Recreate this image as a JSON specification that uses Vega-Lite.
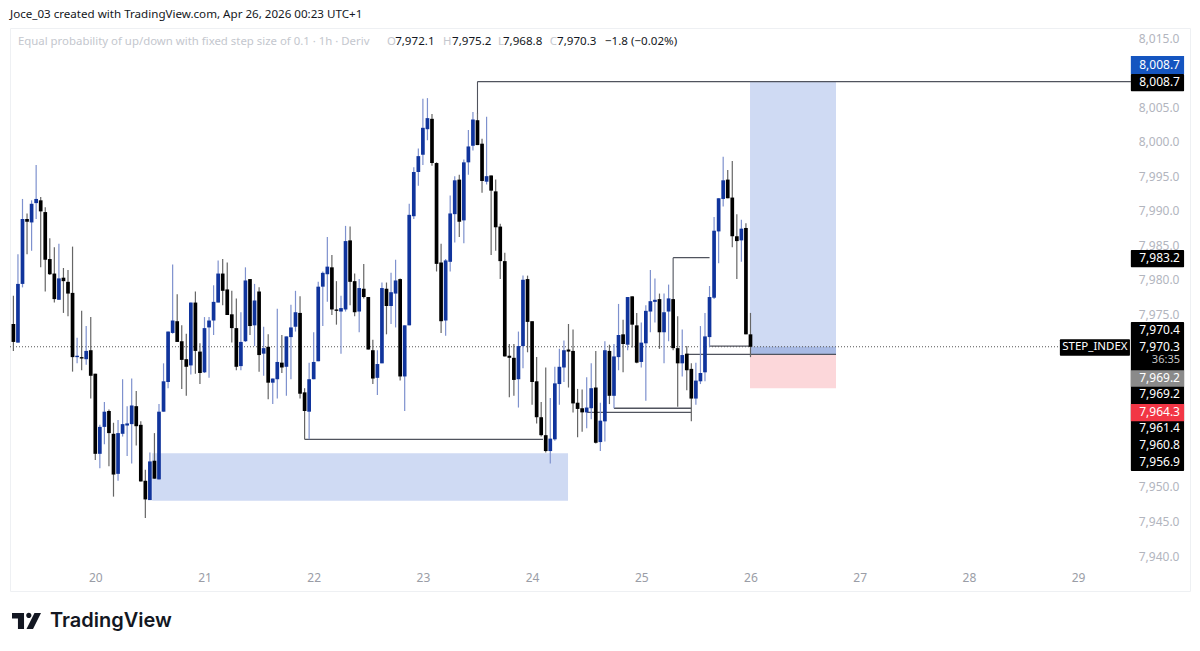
{"$schema":"https://vega.github.io/schema/vega-lite/v6.json","width":1180,"height":563,"autosize":{"type":"none"},"padding":{"left":10,"top":28,"right":10,"bottom":60},"background":"#ffffff","config":{"view":{"stroke":"#eef0f3","strokeWidth":1},"text":{"font":"Noto Sans"},"axis":{"labelFont":"Noto Sans"}},
"datasets":{"candles":[
{"i":0,"o":7973.6,"h":7977.7,"l":7969.7,"c":7971.0},{"i":1,"o":7970.9,"h":7983.7,"l":7970.9,"c":7979.4},{"i":2,"o":7979.4,"h":7991.7,"l":7978.9,"c":7988.8},{"i":3,"o":7988.8,"h":7989.6,"l":7983.7,"c":7988.4},{"i":4,"o":7988.3,"h":7991.5,"l":7984.2,"c":7991.0},{"i":5,"o":7991.1,"h":7996.6,"l":7988.8,"c":7991.7},{"i":6,"o":7991.5,"h":7992.0,"l":7981.8,"c":7989.9},{"i":7,"o":7989.8,"h":7990.5,"l":7978.3,"c":7982.9},{"i":8,"o":7983.0,"h":7986.0,"l":7980.7,"c":7980.8},{"i":9,"o":7980.9,"h":7984.7,"l":7976.7,"c":7977.2},
{"i":10,"o":7977.1,"h":7985.2,"l":7977.1,"c":7980.2},{"i":11,"o":7980.3,"h":7981.7,"l":7975.2,"c":7979.8},{"i":12,"o":7979.7,"h":7981.4,"l":7974.7,"c":7978.0},{"i":13,"o":7978.1,"h":7984.8,"l":7966.7,"c":7968.8},{"i":14,"o":7968.8,"h":7971.6,"l":7967.9,"c":7969.0},{"i":15,"o":7968.8,"h":7975.5,"l":7966.9,"c":7968.6},{"i":16,"o":7968.5,"h":7973.3,"l":7967.7,"c":7969.7},{"i":17,"o":7969.8,"h":7974.6,"l":7962.8,"c":7966.1},{"i":18,"o":7966.4,"h":7966.4,"l":7953.9,"c":7954.8},{"i":19,"o":7954.8,"h":7959.0,"l":7952.7,"c":7958.7},
{"i":20,"o":7958.7,"h":7962.3,"l":7956.2,"c":7960.9},{"i":21,"o":7961.0,"h":7961.2,"l":7953.0,"c":7957.8},{"i":22,"o":7957.7,"h":7959.3,"l":7948.6,"c":7951.8},{"i":23,"o":7951.9,"h":7959.7,"l":7950.9,"c":7957.8},{"i":24,"o":7957.7,"h":7965.6,"l":7957.3,"c":7959.1},{"i":25,"o":7958.9,"h":7961.7,"l":7954.5,"c":7959.2},{"i":26,"o":7959.1,"h":7965.7,"l":7953.4,"c":7961.8},{"i":27,"o":7961.7,"h":7963.9,"l":7956.0,"c":7958.8},{"i":28,"o":7959.0,"h":7959.5,"l":7950.8,"c":7950.8},{"i":29,"o":7950.9,"h":7952.5,"l":7945.5,"c":7948.2},
{"i":30,"o":7948.1,"h":7955.0,"l":7948.1,"c":7953.7},{"i":31,"o":7953.8,"h":7957.8,"l":7951.2,"c":7951.2},{"i":32,"o":7951.1,"h":7962.0,"l":7951.1,"c":7960.9},{"i":33,"o":7960.9,"h":7967.9,"l":7960.9,"c":7965.3},{"i":34,"o":7965.2,"h":7972.5,"l":7964.3,"c":7972.5},{"i":35,"o":7972.3,"h":7982.2,"l":7972.2,"c":7974.1},{"i":36,"o":7974.0,"h":7977.9,"l":7971.0,"c":7971.0},{"i":37,"o":7971.1,"h":7973.4,"l":7964.2,"c":7968.4},{"i":38,"o":7968.5,"h":7972.2,"l":7963.2,"c":7967.4},{"i":39,"o":7967.6,"h":7976.7,"l":7966.3,"c":7976.7},
{"i":40,"o":7976.7,"h":7978.3,"l":7966.4,"c":7969.7},{"i":41,"o":7969.6,"h":7970.8,"l":7964.9,"c":7966.5},{"i":42,"o":7966.6,"h":7974.6,"l":7966.5,"c":7973.0},{"i":43,"o":7973.1,"h":7974.6,"l":7965.8,"c":7974.1},{"i":44,"o":7974.1,"h":7979.2,"l":7972.0,"c":7976.8},{"i":45,"o":7976.7,"h":7982.8,"l":7976.7,"c":7980.9},{"i":46,"o":7980.9,"h":7983.0,"l":7976.3,"c":7978.4},{"i":47,"o":7978.6,"h":7982.5,"l":7974.9,"c":7974.9},{"i":48,"o":7975.0,"h":7978.4,"l":7970.9,"c":7973.0},{"i":49,"o":7973.0,"h":7977.3,"l":7966.9,"c":7967.4},
{"i":50,"o":7967.5,"h":7975.3,"l":7966.9,"c":7971.0},{"i":51,"o":7971.1,"h":7981.8,"l":7971.0,"c":7979.9},{"i":52,"o":7980.1,"h":7980.1,"l":7972.0,"c":7973.3},{"i":53,"o":7973.4,"h":7979.4,"l":7970.4,"c":7977.0},{"i":54,"o":7978.3,"h":7978.9,"l":7966.7,"c":7969.1},{"i":55,"o":7969.3,"h":7973.2,"l":7966.1,"c":7970.1},{"i":56,"o":7970.3,"h":7972.1,"l":7962.7,"c":7965.1},{"i":57,"o":7965.1,"h":7965.7,"l":7962.0,"c":7965.7},{"i":58,"o":7965.6,"h":7975.8,"l":7962.8,"c":7968.1},{"i":59,"o":7968.0,"h":7972.0,"l":7966.5,"c":7967.3},
{"i":60,"o":7967.4,"h":7971.8,"l":7963.2,"c":7971.8},{"i":61,"o":7971.7,"h":7976.4,"l":7965.6,"c":7973.1},{"i":62,"o":7973.2,"h":7978.4,"l":7972.5,"c":7975.3},{"i":63,"o":7975.2,"h":7977.6,"l":7962.8,"c":7963.5},{"i":64,"o":7963.7,"h":7964.3,"l":7956.9,"c":7961.0},{"i":65,"o":7960.9,"h":7968.0,"l":7956.9,"c":7965.6},{"i":66,"o":7965.6,"h":7972.4,"l":7965.6,"c":7968.1},{"i":67,"o":7968.2,"h":7979.7,"l":7968.2,"c":7979.0},{"i":68,"o":7979.0,"h":7981.2,"l":7973.3,"c":7981.0},{"i":69,"o":7980.8,"h":7986.2,"l":7976.8,"c":7981.9},
{"i":70,"o":7981.8,"h":7983.6,"l":7974.9,"c":7975.7},{"i":71,"o":7975.7,"h":7979.8,"l":7973.5,"c":7975.5},{"i":72,"o":7975.4,"h":7977.7,"l":7969.3,"c":7975.9},{"i":73,"o":7975.7,"h":7987.8,"l":7975.4,"c":7985.6},{"i":74,"o":7985.7,"h":7987.7,"l":7976.3,"c":7979.7},{"i":75,"o":7979.8,"h":7980.9,"l":7974.7,"c":7975.3},{"i":76,"o":7975.4,"h":7980.1,"l":7972.4,"c":7978.8},{"i":77,"o":7978.7,"h":7982.3,"l":7977.3,"c":7977.5},{"i":78,"o":7977.5,"h":7977.5,"l":7969.9,"c":7969.9},{"i":79,"o":7969.8,"h":7971.3,"l":7964.9,"c":7965.7},
{"i":80,"o":7965.8,"h":7969.8,"l":7963.3,"c":7967.8},{"i":81,"o":7967.9,"h":7979.6,"l":7967.9,"c":7978.8},{"i":82,"o":7978.7,"h":7979.6,"l":7972.1,"c":7976.2},{"i":83,"o":7976.2,"h":7981.0,"l":7973.6,"c":7978.2},{"i":84,"o":7978.0,"h":7982.9,"l":7973.1,"c":7979.9},{"i":85,"o":7980.1,"h":7980.2,"l":7965.4,"c":7966.0},{"i":86,"o":7966.0,"h":7973.4,"l":7961.0,"c":7973.4},{"i":87,"o":7973.4,"h":7991.0,"l":7973.4,"c":7989.4},{"i":88,"o":7989.2,"h":7996.3,"l":7988.8,"c":7995.6},{"i":89,"o":7995.6,"h":7999.0,"l":7993.6,"c":7997.9},
{"i":90,"o":7998.1,"h":8006.2,"l":7996.6,"c":8002.0},{"i":91,"o":8001.8,"h":8006.3,"l":8000.2,"c":8003.4},{"i":92,"o":8003.3,"h":8004.0,"l":7996.5,"c":7996.9},{"i":93,"o":7996.9,"h":7997.0,"l":7981.2,"c":7982.3},{"i":94,"o":7982.5,"h":7985.2,"l":7972.3,"c":7974.0},{"i":95,"o":7974.1,"h":7983.0,"l":7971.9,"c":7982.8},{"i":96,"o":7982.6,"h":7992.2,"l":7981.2,"c":7989.6},{"i":97,"o":7989.5,"h":7995.0,"l":7985.4,"c":7994.4},{"i":98,"o":7994.5,"h":7995.2,"l":7986.2,"c":7988.4},{"i":99,"o":7988.6,"h":7997.4,"l":7985.3,"c":7997.0},
{"i":100,"o":7997.0,"h":8001.7,"l":7995.2,"c":7999.3},{"i":101,"o":7999.4,"h":8004.3,"l":7998.7,"c":8003.2},{"i":102,"o":8003.1,"h":8004.1,"l":7999.5,"c":7999.5},{"i":103,"o":7999.7,"h":8000.4,"l":7992.6,"c":7994.3},{"i":104,"o":7994.2,"h":8003.6,"l":7993.8,"c":7995.0},{"i":105,"o":7995.1,"h":7995.1,"l":7983.6,"c":7992.9},{"i":106,"o":7992.8,"h":7994.5,"l":7984.2,"c":7987.6},{"i":107,"o":7987.7,"h":7988.1,"l":7980.1,"c":7982.7},{"i":108,"o":7982.7,"h":7983.9,"l":7968.9,"c":7968.9},{"i":109,"o":7969.0,"h":7970.7,"l":7963.0,"c":7968.7},
{"i":110,"o":7968.7,"h":7970.7,"l":7963.2,"c":7965.5},{"i":111,"o":7965.6,"h":7972.5,"l":7961.5,"c":7970.4},{"i":112,"o":7970.4,"h":7980.6,"l":7967.2,"c":7980.0},{"i":113,"o":7980.1,"h":7980.6,"l":7969.5,"c":7973.9},{"i":114,"o":7974.0,"h":7974.0,"l":7961.9,"c":7965.2},{"i":115,"o":7965.3,"h":7968.8,"l":7959.2,"c":7960.1},{"i":116,"o":7960.1,"h":7962.3,"l":7957.3,"c":7957.5},{"i":117,"o":7957.5,"h":7967.3,"l":7955.0,"c":7955.2},{"i":118,"o":7955.2,"h":7962.9,"l":7953.4,"c":7957.0},{"i":119,"o":7956.9,"h":7967.4,"l":7956.7,"c":7965.0},
{"i":120,"o":7964.9,"h":7970.0,"l":7961.9,"c":7967.4},{"i":121,"o":7967.3,"h":7971.2,"l":7965.2,"c":7969.8},{"i":122,"o":7969.9,"h":7973.6,"l":7964.4,"c":7969.6},{"i":123,"o":7969.7,"h":7972.8,"l":7960.8,"c":7962.1},{"i":124,"o":7962.2,"h":7964.2,"l":7957.2,"c":7961.3},{"i":125,"o":7961.4,"h":7964.1,"l":7958.0,"c":7960.8},{"i":126,"o":7960.8,"h":7965.9,"l":7958.5,"c":7961.5},{"i":127,"o":7961.4,"h":7967.9,"l":7959.8,"c":7964.3},{"i":128,"o":7964.4,"h":7969.7,"l":7956.3,"c":7956.4},{"i":129,"o":7956.5,"h":7962.2,"l":7955.2,"c":7959.6},
{"i":130,"o":7959.5,"h":7971.1,"l":7956.6,"c":7969.8},{"i":131,"o":7969.7,"h":7970.6,"l":7962.0,"c":7963.2},{"i":132,"o":7963.2,"h":7970.7,"l":7961.4,"c":7968.9},{"i":133,"o":7968.8,"h":7976.5,"l":7966.9,"c":7972.0},{"i":134,"o":7972.1,"h":7974.2,"l":7966.6,"c":7970.7},{"i":135,"o":7970.6,"h":7977.5,"l":7969.8,"c":7977.5},{"i":136,"o":7977.6,"h":7977.6,"l":7970.2,"c":7973.5},{"i":137,"o":7973.4,"h":7975.2,"l":7967.9,"c":7968.0},{"i":138,"o":7968.1,"h":7973.8,"l":7967.3,"c":7970.9},{"i":139,"o":7970.8,"h":7976.3,"l":7962.5,"c":7975.5},
{"i":140,"o":7975.4,"h":7981.4,"l":7972.4,"c":7976.9},{"i":141,"o":7976.8,"h":7980.2,"l":7973.8,"c":7977.1},{"i":142,"o":7977.2,"h":7978.0,"l":7970.0,"c":7972.4},{"i":143,"o":7972.4,"h":7978.0,"l":7967.9,"c":7975.3},{"i":144,"o":7975.4,"h":7979.3,"l":7971.1,"c":7977.3},{"i":145,"o":7977.2,"h":7977.2,"l":7969.8,"c":7970.1},{"i":146,"o":7970.1,"h":7974.7,"l":7961.6,"c":7967.9},{"i":147,"o":7967.9,"h":7972.8,"l":7966.0,"c":7969.1},{"i":148,"o":7969.3,"h":7970.4,"l":7964.0,"c":7966.9},{"i":149,"o":7967.1,"h":7967.9,"l":7959.5,"c":7962.8},
{"i":150,"o":7962.8,"h":7968.0,"l":7961.9,"c":7965.4},{"i":151,"o":7965.3,"h":7973.3,"l":7964.9,"c":7966.5},{"i":152,"o":7966.6,"h":7975.2,"l":7965.3,"c":7971.8},{"i":153,"o":7971.7,"h":7979.1,"l":7970.3,"c":7977.5},{"i":154,"o":7977.4,"h":7989.1,"l":7977.2,"c":7987.1},{"i":155,"o":7987.0,"h":7991.8,"l":7982.4,"c":7991.8},{"i":156,"o":7991.7,"h":7997.8,"l":7990.6,"c":7994.4},{"i":157,"o":7994.5,"h":7995.9,"l":7991.8,"c":7991.8},{"i":158,"o":7991.9,"h":7997.2,"l":7984.7,"c":7986.3},{"i":159,"o":7986.3,"h":7989.5,"l":7980.1,"c":7985.6},
{"i":160,"o":7985.7,"h":7988.7,"l":7982.6,"c":7987.4},{"i":161,"o":7987.5,"h":7988.2,"l":7972.1,"c":7972.1},{"i":162,"o":7972.1,"h":7975.2,"l":7968.8,"c":7970.3}
]},
"encoding":{
"x":{"field":"i","type":"quantitative","title":null,"scale":{"domain":[-0.747,258.6],"nice":false,"zero":false},"axis":{"values":[18,42,66,90,114,138,162,186,210,234],"labelExpr":"datum.value/24+19.25","format":"d","grid":false,"ticks":false,"domain":false,"labelPadding":-19,"labelColor":"#9a9da6","labelFontSize":12,"labelFont":"Noto Sans","title":null}},
"y":{"field":"p","type":"quantitative","title":null,"scale":{"domain":[7934.94,8016.45],"nice":false,"zero":false},"axis":{"orient":"right","values":[7940,7945,7950,7975,7980,7985,7990,7995,8000,8005,8015],"format":",.1f","grid":false,"ticks":false,"domain":false,"labelPadding":-11,"labelAlign":"right","labelColor":"#b2b5be","labelFontSize":12,"labelFont":"Noto Sans","title":null}}
},
"layer":[
{"data":{"values":[{"i":30.5,"i2":121.9,"p":7954.9,"p2":7948.0},{"i":161.9,"i2":180.8,"p":8008.7,"p2":7969.2}]},"mark":{"type":"rect","fill":"#cfdaf3"},"encoding":{"x2":{"field":"i2"},"y2":{"field":"p2"}}},
{"data":{"values":[{"i":161.9,"i2":180.8,"p":7969.2,"p2":7964.3}]},"mark":{"type":"rect","fill":"#fcd7da"},"encoding":{"x2":{"field":"i2"},"y2":{"field":"p2"}}},
{"data":{"values":[{"i":161.9,"i2":180.8,"p":7970.3,"p2":7969.2}]},"mark":{"type":"rect","fill":"#a8bae4"},"encoding":{"x2":{"field":"i2"},"y2":{"field":"p2"}}},
{"data":{"values":[{"i":102,"i2":245.6,"p":8008.7},{"i":64,"i2":116.4,"p":7956.9},{"i":145,"i2":153,"p":7983.2},{"i":132,"i2":149,"p":7961.4},{"i":126,"i2":149,"p":7960.8},{"i":153,"i2":162,"p":7970.4},{"i":148,"i2":180.8,"p":7969.2}]},"mark":{"type":"rule","stroke":"#50535e","strokeWidth":1.3},"encoding":{"x2":{"field":"i2"}}},
{"data":{"values":[{"i":102,"p":8008.7,"p2":8004},{"i":145,"p":7983.2,"p2":7977}]},"mark":{"type":"rule","stroke":"#50535e","strokeWidth":1.1},"encoding":{"y2":{"field":"p2"}}},
{"data":{"values":[{"i":-0.747,"i2":230,"p":7970.3}]},"mark":{"type":"rule","stroke":"#555","strokeWidth":1,"strokeDash":[1,2]},"encoding":{"x2":{"field":"i2"}}},
{"data":{"name":"candles"},"mark":{"type":"rule","strokeWidth":1.2},"encoding":{"y":{"field":"l","type":"quantitative","title":null,"scale":{"domain":[7934.94,8016.45],"nice":false,"zero":false}},"y2":{"field":"h"},"color":{"condition":{"test":"datum.c>=datum.o","value":"#7e91ce"},"value":"#666666"}}},
{"data":{"name":"candles"},"mark":{"type":"rule","strokeWidth":3.7},"encoding":{"y":{"field":"o","type":"quantitative","title":null,"scale":{"domain":[7934.94,8016.45],"nice":false,"zero":false}},"y2":{"field":"c"},"color":{"condition":{"test":"datum.c>=datum.o","value":"#10349c"},"value":"#000000"}}},
{"data":{"values":[{"i":245.6,"i2":257.3,"p":8009.8,"p2":8007.3},{"i":245.6,"i2":257.3,"p":7984.3,"p2":7981.8},{"i":245.6,"i2":257.3,"p":7973.9,"p2":7952.3},{"i":230,"i2":245.4,"p":7971.4,"p2":7969.0}]},"mark":{"type":"rect","fill":"#000000","cornerRadius":1},"encoding":{"x2":{"field":"i2"},"y2":{"field":"p2"}}},
{"data":{"values":[{"i":245.6,"i2":257.3,"p":8012.4,"p2":8009.8}]},"mark":{"type":"rect","fill":"#1555c0"},"encoding":{"x2":{"field":"i2"},"y2":{"field":"p2"}}},
{"data":{"values":[{"i":245.6,"i2":257.3,"p":7966.9,"p2":7964.5}]},"mark":{"type":"rect","fill":"#8a8a8a"},"encoding":{"x2":{"field":"i2"},"y2":{"field":"p2"}}},
{"data":{"values":[{"i":245.6,"i2":257.3,"p":7962.0,"p2":7959.5}]},"mark":{"type":"rect","fill":"#f23645"},"encoding":{"x2":{"field":"i2"},"y2":{"field":"p2"}}},
{"data":{"values":[{"i":256.4,"p":8011.1,"t":"8,008.7"},{"i":256.4,"p":8008.6,"t":"8,008.7"},{"i":256.4,"p":7983.1,"t":"7,983.2"},{"i":256.4,"p":7972.7,"t":"7,970.4"},{"i":256.4,"p":7970.3,"t":"7,970.3"},{"i":256.4,"p":7965.8,"t":"7,969.2"},{"i":256.4,"p":7963.5,"t":"7,969.2"},{"i":256.4,"p":7960.9,"t":"7,964.3"},{"i":256.4,"p":7958.5,"t":"7,961.4"},{"i":256.4,"p":7956.1,"t":"7,960.8"},{"i":256.4,"p":7953.6,"t":"7,956.9"}]},"mark":{"type":"text","align":"right","baseline":"middle","fontSize":12,"fill":"#ffffff","font":"Noto Sans"},"encoding":{"text":{"field":"t"}}},
{"data":{"values":[{"i":256.4,"p":7968.4,"t":"36:35"}]},"mark":{"type":"text","align":"right","baseline":"middle","fontSize":11,"fill":"#c4c4c4","font":"Noto Sans"},"encoding":{"text":{"field":"t"}}},
{"data":{"values":[{"i":237.7,"p":7970.3,"t":"STEP_INDEX"}]},"mark":{"type":"text","align":"center","baseline":"middle","fontSize":11.5,"fill":"#ffffff","font":"Noto Sans"},"encoding":{"text":{"field":"t"}}},
{"data":{"values":[{"i":-0.75,"p":8018.3,"t":"Joce_03 created with TradingView.com, Apr 26, 2026 00:23 UTC+1"}]},"mark":{"type":"text","align":"left","baseline":"middle","fontSize":11.6,"fill":"#131722","font":"Noto Sans","clip":false},"encoding":{"text":{"field":"t"}}},
{"data":{"values":[{"i":1.0,"p":8014.4,"t":"Equal probability of up/down with fixed step size of 0.1 · 1h · Deriv"},{"i":82.1,"p":8014.4,"t":"O"},{"i":94.4,"p":8014.4,"t":"H"},{"i":106.5,"p":8014.4,"t":"L"},{"i":117.9,"p":8014.4,"t":"C"}]},"mark":{"type":"text","align":"left","baseline":"middle","fontSize":11.4,"fill":"#c4c7ce","font":"Noto Sans"},"encoding":{"text":{"field":"t"}}},
{"data":{"values":[{"i":83.9,"p":8014.4,"t":"7,972.1"},{"i":96.4,"p":8014.4,"t":"7,975.2"},{"i":107.6,"p":8014.4,"t":"7,968.8"},{"i":119.5,"p":8014.4,"t":"7,970.3"},{"i":130.0,"p":8014.4,"t":"−1.8 (−0.02%)"}]},"mark":{"type":"text","align":"left","baseline":"middle","fontSize":11.6,"fill":"#131722","font":"Noto Sans"},"encoding":{"text":{"field":"t"}}},
{"data":{"values":[{"i":8.04,"p":7930.6,"t":"TradingView"}]},"mark":{"type":"text","align":"left","baseline":"middle","fontSize":20,"fontWeight":600,"fill":"#131722","font":"Inter","clip":false},"encoding":{"text":{"field":"t"}}},
{"data":{"values":[{"i":2.88,"p":7930.6}]},"mark":{"type":"point","filled":true,"fill":"#131722","opacity":1,"size":841,"clip":false,"shape":"M-1,-0.55 L-0.17,-0.55 L-0.17,0.55 L-0.59,0.55 L-0.59,-0.17 L-1,-0.17 Z M0.55,-0.55 L1,-0.55 L0.45,0.55 L0,0.55 Z M0.34,-0.38 A0.18,0.18 0 1 1 -0.02,-0.38 A0.18,0.18 0 1 1 0.34,-0.38 Z"}}
]}
